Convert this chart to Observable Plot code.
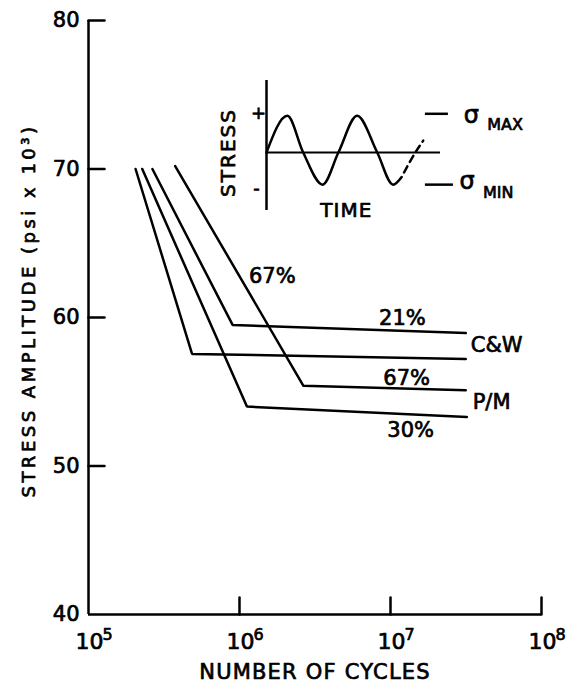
<!DOCTYPE html>
<html>
<head>
<meta charset="utf-8">
<script src="https://cdn.jsdelivr.net/npm/d3@7"></script>
<script src="https://cdn.jsdelivr.net/npm/@observablehq/plot@0.6"></script>
<style>
  html, body { margin: 0; padding: 0; background: #fff; }
  #chart { position: relative; width: 566px; height: 683px; }
  #chart svg { position: absolute; left: 0; top: 0; }
</style>
</head>
<body>
<div id="chart"></div>
<script>
// Fatigue (S-N) curves: stress amplitude vs. number of cycles
const seriesNames = ["C&W 21%", "C&W 67%", "P/M 67%", "P/M 30%"];
const seriesCycles = [
  [2.65e5, 9.0e5, 3.15e7],
  [2.05e5, 4.85e5, 3.15e7],
  [3.75e5, 2.65e6, 3.15e7],
  [2.27e5, 1.12e6, 3.2e7]
];
const seriesStress = [
  [70, 59.5, 58.95],
  [70, 57.55, 57.2],
  [70.2, 55.4, 55.1],
  [70, 54.0, 53.3]
];

// axes
const xTicks = [1e5, 1e6, 1e7, 1e8];
const xTickExponents = ["5", "6", "7", "8"];
const yTicks = [40, 50, 60, 70, 80];

// curve annotations
const pctText = ["67%", "21%", "67%", "30%"];
const pctCycles = [1.65e6, 1.2e7, 1.28e7, 1.36e7];
const pctStress = [62.75, 59.95, 55.9, 52.4];
const matText = ["C&W", "P/M"];
const matCycles = [3.4e7, 3.5e7];
const matStress = [58.1, 54.3];

// inset: cyclic stress waveform (time in cycles, stress relative to amplitude)
const waveTime = [0, 0.29, 0.51, 0.78, 1.0, 1.26, 1.54, 1.76, 1.88];
const waveStress = [0, 1.05, 0, -0.92, 0, 1.05, 0, -0.92, -0.7];
const tailTime = [1.88, 2.07, 2.18];
const tailStress = [-0.7, 0, 0.34];
const sigmaMax = 1.05;
const sigmaMin = -0.92;

const font = "DejaVu Sans";
const tickShape = {draw(context, l) { context.moveTo(0, 0); context.lineTo(0, -l); }};

// lettering: a thin outline in the fill colour gives the heavier pen stroke
const ink = {fill: "black", stroke: "black", strokeWidth: 0.7};
const label = (data, options) => Plot.text(data, {...ink, lineAnchor: "middle", textAnchor: "middle", ...options});

const lineRows = seriesNames.flatMap((name, i) =>
  seriesCycles[i].map((n, j) => ({name, n, s: seriesStress[i][j]})));
const pctRows = pctText.map((text, i) => ({text, n: pctCycles[i], s: pctStress[i]}));
const matRows = matText.map((text, i) => ({text, n: matCycles[i], s: matStress[i]}));
const xTickRows = xTicks.map((v, i) => ({v, e: xTickExponents[i]}));

const main = Plot.plot({
  width: 566,
  height: 683,
  marginLeft: 88,
  marginRight: 25,
  marginTop: 20,
  marginBottom: 69,
  x: {type: "log", domain: [1e5, 1e8], axis: null},
  y: {domain: [40, 80], axis: null},
  style: {fontFamily: font, background: "white", color: "black", overflow: "visible"},
  marks: [
    Plot.ruleX([1e5], {stroke: "black", strokeWidth: 2.5}),
    Plot.ruleY([40], {stroke: "black", strokeWidth: 2.5}),
    // inward tick marks
    Plot.vector(yTicks.slice(1), {y: d => d, frameAnchor: "left", rotate: 90, length: 16, anchor: "start",
      shape: tickShape, stroke: "black", strokeWidth: 2.5}),
    Plot.vector(xTicks.slice(1), {x: d => d, frameAnchor: "bottom", rotate: 0, length: 17, anchor: "start",
      shape: tickShape, stroke: "black", strokeWidth: 2.5}),
    // tick labels
    label(yTicks, {y: d => d, frameAnchor: "left", text: d => String(d), dx: -9, textAnchor: "end", fontSize: 21}),
    label(xTickRows, {x: "v", frameAnchor: "bottom", text: () => "10", dx: 1, dy: 27, fontSize: 22}),
    label(xTickRows, {x: "v", frameAnchor: "bottom", text: "e", dx: 14, dy: 20, textAnchor: "start", fontSize: 16}),
    // axis titles
    label(["NUMBER OF CYCLES"], {frameAnchor: "bottom", dy: 58, fontSize: 21}),
    label(["STRESS AMPLITUDE (psi x 10³)"], {frameAnchor: "left", dx: -59, dy: -7, rotate: -90, fontSize: 18}),
    // curves
    Plot.line(lineRows, {x: "n", y: "s", z: "name", stroke: "black", strokeWidth: 2.5, strokeLinejoin: "miter"}),
    label(pctRows, {x: "n", y: "s", text: "text", fontSize: 21}),
    label(matRows, {x: "n", y: "s", text: "text", textAnchor: "start", fontSize: 21})
  ]
});

const waveRows = waveTime.map((t, i) => ({t, s: waveStress[i]}));
const tailRows = tailTime.map((t, i) => ({t, s: tailStress[i]}));

const inset = Plot.plot({
  width: 566,
  height: 683,
  marginLeft: 266,
  marginRight: 126,
  marginTop: 80,
  marginBottom: 473,
  x: {domain: [0, 2.42], axis: null},
  y: {domain: [-1.66, 2.06], axis: null},
  style: {fontFamily: font, background: "transparent", color: "black", overflow: "visible"},
  marks: [
    Plot.ruleX([0], {stroke: "black", strokeWidth: 2.5}),
    Plot.ruleY([0], {stroke: "black", strokeWidth: 2}),
    Plot.line(waveRows, {x: "t", y: "s", curve: "monotone-x", stroke: "black", strokeWidth: 2.5}),
    Plot.line(tailRows, {x: "t", y: "s", curve: "monotone-x", stroke: "black", strokeWidth: 2.5,
      strokeDasharray: "7,5", strokeDashoffset: 7}),
    label(["STRESS"], {x: () => 0, y: () => 0, dx: -38, rotate: -90, fontSize: 20}),
    label(["+"], {x: () => 0, y: () => sigmaMax, dx: -8, dy: -3, fontSize: 18}),
    label(["-"], {x: () => 0, y: () => sigmaMin, dx: -10, dy: 4, fontSize: 18}),
    label(["TIME"], {x: () => 1.11, frameAnchor: "bottom", fontSize: 20}),
    // σ levels
    Plot.ruleY([sigmaMax], {x1: 2.21, x2: 2.53, stroke: "black", strokeWidth: 2.5, dy: -2}),
    Plot.ruleY([sigmaMin], {x1: 2.21, x2: 2.6, stroke: "black", strokeWidth: 2.5}),
    label(["σ"], {x: () => 2.85, y: () => sigmaMax, fontSize: 24}),
    label(["MAX"], {x: () => 3.07, y: () => sigmaMax, dy: 9, textAnchor: "start", fontSize: 16}),
    label(["σ"], {x: () => 2.79, y: () => sigmaMin, dy: -3, fontSize: 24}),
    label(["MIN"], {x: () => 3.01, y: () => sigmaMin, dy: 8, textAnchor: "start", fontSize: 16})
  ]
});

// pen lettering is widely spaced
const spacing = {"NUMBER OF CYCLES": 1.2, "STRESS AMPLITUDE (psi x 10³)": 3.5, "STRESS": 2, "TIME": 1};
for (const svg of [main, inset]) {
  d3.select(svg).selectAll("text").each(function() {
    const s = spacing[this.textContent];
    if (s) d3.select(this).attr("letter-spacing", s);
  });
}

const chart = document.getElementById("chart");
chart.appendChild(main);
chart.appendChild(inset);
</script>
</body>
</html>
